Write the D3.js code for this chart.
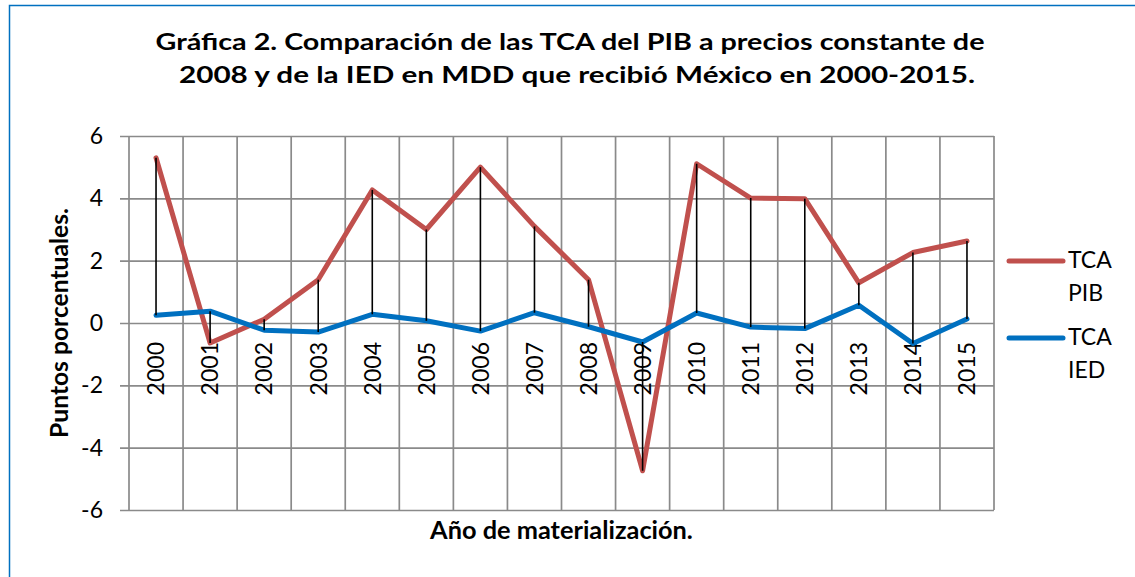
<!DOCTYPE html>
<html>
<head>
<meta charset="utf-8">
<script src="https://cdn.jsdelivr.net/npm/d3@7"></script>
<style>
    body { margin: 0; background: #fff; }
    text { font-family: Lato, "Open Sans", sans-serif; fill: #000; }
</style>
</head>
<body>
<svg id="chart"></svg>
<script>
'use strict';

/*
    Data
*/

const YEARS = ['2000', '2001', '2002', '2003', '2004', '2005', '2006', '2007',
               '2008', '2009', '2010', '2011', '2012', '2013', '2014', '2015'];

const TCA_PIB = [5.3, -0.64, 0.12, 1.39, 4.27, 3.0, 5.0, 3.1,
                 1.39, -4.74, 5.11, 4.01, 3.99, 1.29, 2.26, 2.63];

const TCA_IED = [0.25, 0.38, -0.23, -0.29, 0.28, 0.07, -0.26, 0.33,
                 -0.12, -0.61, 0.32, -0.13, -0.18, 0.57, -0.66, 0.13];

const Y_TICKS = [-6, -4, -2, 0, 2, 4, 6];

const SERIES_LABELS = [['TCA', 'PIB'], ['TCA', 'IED']];

const TITLE_LINES = [
    'Gráfica 2. Comparación de las TCA del PIB a precios constante de',
    '2008 y de la IED en MDD que recibió México en 2000-2015.'
];

const Y_TITLE = 'Puntos porcentuales.';
const X_TITLE = 'Año de materialización.';

/*
    Constants
*/

const WIDTH  = 1135;
const HEIGHT = 577;

const PLOT = Object.freeze({ LEFT: 129, RIGHT: 994, TOP: 136, BOTTOM: 510 });

const COLORS = Object.freeze({ PIB: '#C0504D', IED: '#0070C0', GRID: '#8a8a8a' });

const SVG = d3.select('#chart')
    .attr('width', WIDTH)
    .attr('height', HEIGHT);

const x = d3.scaleBand()
    .domain(YEARS)
    .range([PLOT.LEFT, PLOT.RIGHT]);

const y = d3.scaleLinear()
    .domain([-6, 6])
    .range([PLOT.BOTTOM, PLOT.TOP]);

const cx = d => x(d) + x.bandwidth() / 2;

// shrink or grow a text's font size so it spans the wanted width
function fitText(sel, width) {
    const w = sel.node().getComputedTextLength();
    const fs = parseFloat(sel.attr('font-size'));
    sel.attr('font-size', fs * width / w);
}

/*
    Frame
*/

SVG.append('rect')
    .attr('x', 9.5).attr('y', 5.5)
    .attr('width', 1300).attr('height', 700)
    .attr('fill', 'none')
    .attr('stroke', COLORS.IED)
    .attr('stroke-width', 1.5);

/*
    Title
*/

// fixed size, stretched to the reference width
const TITLE_POS = [[570, 50, 829], [577, 83, 796]];
TITLE_LINES.forEach((line, i) => {
    SVG.append('text')
        .attr('x', TITLE_POS[i][0])
        .attr('y', TITLE_POS[i][1])
        .attr('text-anchor', 'middle')
        .attr('font-weight', 'bold')
        .attr('font-size', 22.5)
        .attr('textLength', TITLE_POS[i][2])
        .attr('lengthAdjust', 'spacingAndGlyphs')
        .text(line);
});

/*
    Grid and axes
*/

const yAxis = d3.axisLeft(y)
    .tickValues(Y_TICKS)
    .tickSizeInner(-(PLOT.RIGHT - PLOT.LEFT + 9))
    .tickSizeOuter(0)
    .tickPadding(17)
    .tickFormat(d => d);

const yAxisG = SVG.append('g')
    .attr('transform', `translate(${PLOT.LEFT - 9},0)`)
    .call(yAxis);

yAxisG.select('.domain').remove();
yAxisG.selectAll('line')
    .attr('stroke', COLORS.GRID)
    .attr('stroke-width', 1.7);
yAxisG.selectAll('text')
    .attr('font-size', 23)
    .attr('font-family', 'Lato, "Open Sans", sans-serif')
    .attr('fill', '#000');

const bounds = YEARS.map(d => x(d)).concat([x.range()[1]]);
SVG.append('g')
    .selectAll('line')
    .data(bounds)
    .join('line')
    .attr('x1', d => d).attr('x2', d => d)
    .attr('y1', PLOT.TOP).attr('y2', PLOT.BOTTOM)
    .attr('stroke', COLORS.GRID)
    .attr('stroke-width', 1.7);

// category labels, rotated, hanging under the zero line
SVG.append('g')
    .selectAll('text')
    .data(YEARS)
    .join('text')
    .attr('transform', d => `translate(${cx(d)},342) rotate(-90)`)
    .attr('text-anchor', 'end')
    .attr('dy', '0.36em')
    .attr('font-size', 23)
    .text(d => d);

/*
    Series
*/

const line = d3.line()
    .x((d, i) => cx(YEARS[i]))
    .y(d => y(d));

SVG.append('path')
    .datum(TCA_PIB)
    .attr('d', line)
    .attr('fill', 'none')
    .attr('stroke', COLORS.PIB)
    .attr('stroke-width', 5)
    .attr('stroke-linejoin', 'round')
    .attr('stroke-linecap', 'round');

SVG.append('path')
    .datum(TCA_IED)
    .attr('d', line)
    .attr('fill', 'none')
    .attr('stroke', COLORS.IED)
    .attr('stroke-width', 5)
    .attr('stroke-linejoin', 'round')
    .attr('stroke-linecap', 'round');

// high-low lines
SVG.append('g')
    .selectAll('line')
    .data(YEARS)
    .join('line')
    .attr('x1', d => cx(d)).attr('x2', d => cx(d))
    .attr('y1', (d, i) => y(TCA_PIB[i]))
    .attr('y2', (d, i) => y(TCA_IED[i]))
    .attr('stroke', '#000')
    .attr('stroke-width', 1.6);

/*
    Axis titles
*/

const yTitle = SVG.append('text')
    .attr('transform', 'translate(68,323) rotate(-90)')
    .attr('text-anchor', 'middle')
    .attr('font-weight', 'bold')
    .attr('font-size', 22)
    .text(Y_TITLE);
fitText(yTitle, 230);

const xTitle = SVG.append('text')
    .attr('x', 561.5)
    .attr('y', 539)
    .attr('text-anchor', 'middle')
    .attr('font-weight', 'bold')
    .attr('font-size', 22)
    .text(X_TITLE);
fitText(xTitle, 263);

/*
    Legend
*/

const LEGEND_Y = [261, 338];
const LEGEND_COLORS = [COLORS.PIB, COLORS.IED];

SERIES_LABELS.forEach((lab, i) => {
    const g = SVG.append('g');
    g.append('line')
        .attr('x1', 1009).attr('x2', 1063)
        .attr('y1', LEGEND_Y[i]).attr('y2', LEGEND_Y[i])
        .attr('stroke', LEGEND_COLORS[i])
        .attr('stroke-width', 5)
        .attr('stroke-linecap', 'round');
    lab.forEach((word, k) => {
        g.append('text')
            .attr('x', 1068)
            .attr('y', LEGEND_Y[i] + 7 + k * 33)
            .attr('font-size', 23)
            .text(word);
    });
});
</script>
</body>
</html>
